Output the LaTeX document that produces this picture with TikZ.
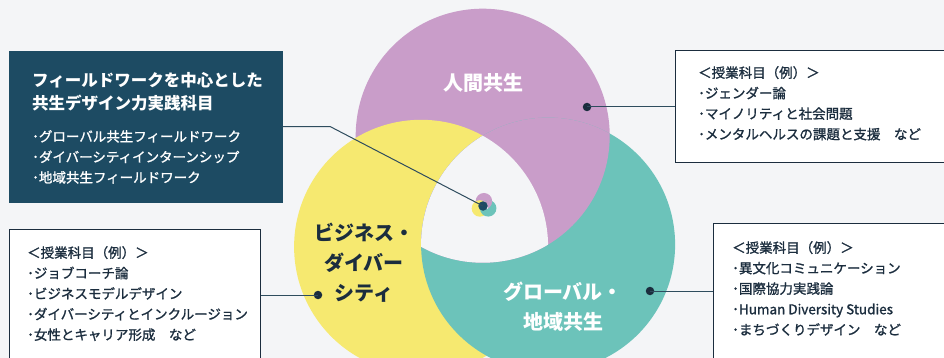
\documentclass[tikz,border=0pt]{standalone}
\usepackage{fontspec}
\setmainfont{Noto Sans CJK JP}
\newfontfamily\jpmed{Noto Sans CJK JP}[FakeBold=1.2]
\definecolor{cbg}{HTML}{F4F5F7}
\definecolor{cpink}{HTML}{C99DC9}
\definecolor{cyel}{HTML}{F6E970}
\definecolor{cteal}{HTML}{6CC3BA}
\definecolor{cnavy}{HTML}{1D4B63}
\definecolor{ctext}{HTML}{1B2D3E}
\definecolor{cline}{HTML}{2E4C5E}
\tikzset{
  swirl/.pic={
    \fill[cpink] (-1.3,-73.3) circle (127pt);
    \fill[cyel] (-62.9,37.8) circle (127pt);
    \fill[cteal] (64.1,35.6) circle (127pt);
    \begin{scope}
      \clip (64.1,35.6) circle (127pt);
      \fill[cpink] (-1.3,-73.3) circle (127pt);
      \clip (-1.3,-73.3) circle (127pt);
      \fill[cbg] (-62.9,37.8) circle (127pt);
    \end{scope}
  },
  navybox/.style={fill=cnavy, draw=cnavy, inner sep=0},
  wbox/.style={fill=white, draw=ctext, line width=1.2pt, inner sep=0},
  tbody/.style={anchor=north west, inner sep=0, align=left, text=ctext,
    font=\jpmed\fontsize{13.5}{20.5}\selectfont},
  dotn/.style={circle, fill=ctext, inner sep=0, minimum size=8.5},
  conn/.style={draw=cline, line width=1pt},
  clabel/.style={inner sep=0, align=center, font=\bfseries\fontsize{20}{30}\selectfont}
}
\begin{document}
\begin{tikzpicture}[x=1pt,y=-1pt]
\useasboundingbox (0,0) rectangle (944,358);
\clip (0,0) rectangle (944,358);
\fill[cbg] (0,0) rectangle (944,358);
% big swirl
\pic at (484,209) {swirl};
% small swirl icon
\pic[scale=0.065] at (484,206) {swirl};
% boxes
\node[navybox, minimum width=273, minimum height=151, anchor=north west] (fw) at (9,51) {};
\node[wbox, minimum width=285, minimum height=112, anchor=north west] (rt) at (675,50) {};
\node[wbox, minimum width=251, minimum height=145, anchor=north west] (bl) at (9,229) {};
\node[wbox, minimum width=245, minimum height=150, anchor=north west] (br) at (713,223) {};
% dots
\node[dotn, fill=cnavy, minimum size=9.5] (cdot) at (483,206) {};
\node[dotn] (pdot) at (587,107) {};
\node[dotn] (ydot) at (318,295) {};
\node[dotn] (tdot) at (650,291) {};
% connectors
\draw[conn] (fw.east) -- ++(48,0) coordinate (fwbend) -- (cdot.center);
\draw[conn] (pdot.center) -- (pdot -| rt.west);
\draw[conn] (ydot.center) -- (ydot -| bl.east);
\draw[conn] (tdot.center) -- (tdot -| br.west);
% circle labels
\node[clabel, text=white] (lhum) at (483,83) {人間共生};
\node[clabel, text=ctext] (lbiz) at (364,263) {ビジネス・\\ダイバー\\シティ};
\node[clabel, text=white] (lglo) at (563,307) {グローバル・\\地域共生};
% navy box text
\node[anchor=north west, inner sep=0, align=left, text=white,
  font=\bfseries\fontsize{16.5}{23}\selectfont] (fwtitle) at (32,72) {フィールドワークを中心とした\\共生デザイン力実践科目};
\node[tbody, text=white] (fwlist) at (32,130) {･グローバル共生フィールドワーク\\･ダイバーシティインターンシップ\\･地域共生フィールドワーク};
% white box texts
\node[tbody] (rttext) at (698,66) {＜授業科目（例）＞\\･ジェンダー論\\･マイノリティと社会問題\\･メンタルヘルスの課題と支援　など};
\node[tbody] (bltext) at (27,246) {＜授業科目（例）＞\\･ジョブコーチ論\\･ビジネスモデルデザイン\\･ダイバーシティとインクルージョン\\･女性とキャリア形成　など};
\node[tbody] (brtext) at (732,241) {＜授業科目（例）＞\\･異文化コミュニケーション\\･国際協力実践論\\･Human Diversity Studies\\･まちづくりデザイン　など};
\end{tikzpicture}
\end{document}
